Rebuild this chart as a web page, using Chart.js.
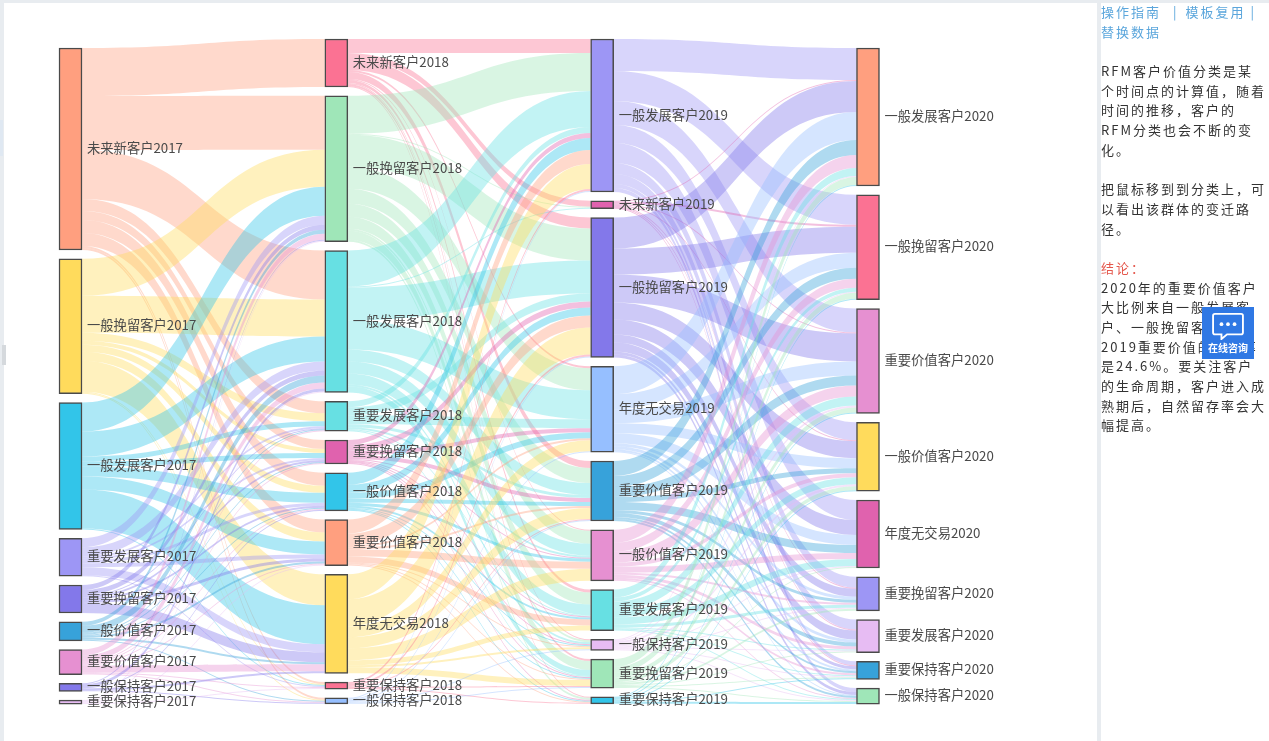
<!DOCTYPE html>
<html>
<head>
<meta charset="utf-8">
<title>RFM</title>
<script src="https://cdn.jsdelivr.net/npm/chart.js@4"></script>
<style>
    html, body { margin: 0; padding: 0; background: #fff; overflow: hidden; }
    #wrap { position: relative; width: 1269px; height: 741px; overflow: hidden; font-family: "Noto Sans CJK SC", sans-serif; }
    #sankey { position: absolute; left: 0; top: 0; }
    .bar { position: absolute; background: #e8ecf0; }
    #side { position: absolute; left: 1101px; top: 2px; width: 168px; font-size: 13px; line-height: 19.7px; letter-spacing: 2px; color: #333; white-space: nowrap; }
    #side .link { color: #5ba6dc; }
    #side .red { color: #e4574c; }
    #side div { height: 19.7px; }
    #help { position: absolute; left: 1202px; top: 307px; width: 52px; height: 52px; background: #2f78e4; color: #fff; text-align: center; }
    #help svg { display: block; margin: 5px auto 0; }
    #help span { display: block; font-size: 10px; line-height: 12px; font-weight: 700; margin-top: 2px; }
</style>
</head>
<body>
<div id="wrap">
    <canvas id="sankey" width="1095" height="741"></canvas>
    <div class="bar" style="left:0;top:0;width:1269px;height:3px"></div>
    <div class="bar" style="left:0;top:0;width:4px;height:741px"></div>
    <div class="bar" style="left:0;top:120px;width:3px;height:36px;background:#dfe8f2"></div>
    <div class="bar" style="left:1097px;top:0;width:4px;height:741px"></div>
    <div class="bar" style="left:2px;top:345px;width:4px;height:20px;background:#d5d9dd"></div>
    <div id="side">
        <div class="link">操作指南<span style="margin-left:12px">|</span><span style="margin-left:7px">模板复用</span><span style="margin-left:5px">|</span></div>
        <div class="link">替换数据</div>
        <div></div>
        <div>RFM客户价值分类是某</div>
        <div>个时间点的计算值，随着</div>
        <div>时间的推移，客户的</div>
        <div>RFM分类也会不断的变</div>
        <div>化。</div>
        <div></div>
        <div>把鼠标移到到分类上，可</div>
        <div>以看出该群体的变迁路</div>
        <div>径。</div>
        <div></div>
        <div class="red">结论：</div>
        <div>2020年的重要价值客户</div>
        <div>大比例来自一般发展客</div>
        <div>户、一般挽留客户，以</div>
        <div>2019重要价值的留存率</div>
        <div>是24.6%。要关注客户</div>
        <div>的生命周期，客户进入成</div>
        <div>熟期后，自然留存率会大</div>
        <div>幅提高。</div>
    </div>
    <div id="help">
        <svg width="34" height="28" viewBox="0 0 36 30">
            <path d="M4 2h28a2 2 0 0 1 2 2v18a2 2 0 0 1-2 2H17l-6 5v-5H4a2 2 0 0 1-2-2V4a2 2 0 0 1 2-2z" fill="none" stroke="#fff" stroke-width="2"/>
            <circle cx="11" cy="13" r="2" fill="#fff"/><circle cx="18" cy="13" r="2" fill="#fff"/><circle cx="25" cy="13" r="2" fill="#fff"/>
        </svg>
        <span>在线咨询</span>
    </div>
</div>
<script>
// Categories, top to bottom in each year
const nodes2017 = ['未来新客户2017', '一般挽留客户2017', '一般发展客户2017', '重要发展客户2017', '重要挽留客户2017', '一般价值客户2017', '重要价值客户2017', '一般保持客户2017', '重要保持客户2017'];
const nodes2018 = ['未来新客户2018', '一般挽留客户2018', '一般发展客户2018', '重要发展客户2018', '重要挽留客户2018', '一般价值客户2018', '重要价值客户2018', '年度无交易2018', '重要保持客户2018', '一般保持客户2018'];
const nodes2019 = ['一般发展客户2019', '未来新客户2019', '一般挽留客户2019', '年度无交易2019', '重要价值客户2019', '一般价值客户2019', '重要发展客户2019', '一般保持客户2019', '重要挽留客户2019', '重要保持客户2019'];
const nodes2020 = ['一般发展客户2020', '一般挽留客户2020', '重要价值客户2020', '一般价值客户2020', '年度无交易2020', '重要挽留客户2020', '重要发展客户2020', '重要保持客户2020', '一般保持客户2020'];

// Flow values: one row per source, one column per target
const flows2017 = [
    [48, 54, 49, 12, 9, 13, 13, 0, 2, 2],
    [0, 37, 37, 8, 4, 7, 9, 31, 1, 1],
    [0, 29, 25, 5, 5, 10, 13, 39, 1, 0],
    [0, 9, 9, 2, 2, 3, 4, 8, 1, 0],
    [0, 5, 5, 1, 2, 2, 3, 10, 0, 0],
    [0, 4, 7, 1, 1, 1, 2, 2, 0, 1],
    [0, 6, 6, 1, 1, 1, 1, 7, 1, 1],
    [0, 1, 3, 0, 0, 1, 0, 2, 0, 1],
    [0, 1, 1, 0, 0, 0, 1, 0, 1, 0]
];
const flows2018 = [
    [14, 6, 11, 2, 7, 1, 3, 1, 2, 1],
    [38, 1, 32, 22, 15, 13, 12, 2, 9, 2],
    [36, 1, 33, 29, 12, 12, 11, 2, 6, 0],
    [6, 0, 8, 9, 3, 2, 1, 0, 1, 0],
    [5, 0, 6, 4, 4, 1, 1, 1, 1, 1],
    [12, 0, 8, 6, 4, 3, 2, 1, 1, 1],
    [14, 0, 12, 2, 2, 7, 6, 1, 1, 1],
    [25, 0, 27, 11, 11, 12, 5, 2, 6, 0],
    [2, 0, 2, 0, 1, 0, 0, 0, 1, 1],
    [1, 0, 1, 1, 1, 0, 0, 1, 1, 0]
];
const flows2019 = [
    [32, 30, 24, 18, 20, 11, 10, 4, 4],
    [1, 2, 1, 1, 0, 1, 1, 1, 0],
    [31, 26, 28, 17, 15, 8, 9, 3, 3],
    [28, 15, 14, 10, 10, 3, 3, 2, 1],
    [15, 11, 10, 5, 8, 3, 4, 2, 2],
    [13, 9, 11, 4, 6, 2, 3, 2, 1],
    [8, 4, 9, 7, 7, 3, 1, 1, 1],
    [1, 1, 2, 2, 1, 1, 1, 1, 1],
    [8, 6, 5, 4, 1, 2, 1, 1, 1],
    [1, 1, 1, 1, 0, 0, 0, 1, 2]
];

const colors2017 = ['#FF9F7F', '#FFDB5C', '#32C5E9', '#9D96F5', '#8378EA', '#37A2DA', '#E690D1', '#8378EA', '#E7BCF3'];
const colors2018 = ['#FB7293', '#9FE6B8', '#67E0E3', '#67E0E3', '#E062AE', '#32C5E9', '#FF9F7F', '#FFDB5C', '#FB7293', '#96BFFF'];
const colors2019 = ['#9D96F5', '#E062AE', '#8378EA', '#96BFFF', '#37A2DA', '#E690D1', '#67E0E3', '#E7BCF3', '#9FE6B8', '#32C5E9'];
const colors2020 = ['#FF9F7F', '#FB7293', '#E690D1', '#FFDB5C', '#E062AE', '#9D96F5', '#E7BCF3', '#37A2DA', '#9FE6B8'];

const columnNames = [nodes2017, nodes2018, nodes2019, nodes2020];
const columnColors = [colors2017, colors2018, colors2019, colors2020];
const columnFlows = [flows2017, flows2018, flows2019];

// Layout on the y axis
const columnTops = [48, 39, 39, 48];
const nodeGap = 8.76;
const nodeWidth = 23;

function sumRow(row) {
    return row.reduce((a, b) => a + b, 0);
}

function sumCol(rows, c) {
    return rows.reduce((a, row) => a + row[c], 0);
}

// Stack each column's nodes from the flow totals
let nodes = [];
columnNames.forEach((names, col) => {
    let y = columnTops[col];
    names.forEach((name, i) => {
        let out = col < 3 ? sumRow(columnFlows[col][i]) : 0;
        let inn = col > 0 ? sumCol(columnFlows[col - 1], i) : 0;
        let size = Math.max(out, inn);
        nodes.push({ name: name, col: col, i: i, top: y, bottom: y + size, color: columnColors[col][i] });
        y += size + nodeGap;
    });
});

function findNode(col, i) {
    return nodes.find(n => n.col === col && n.i === i);
}

// One ribbon per non-zero flow, stacked in order at both ends
let links = [];
columnFlows.forEach((rows, col) => {
    let targetUsed = rows[0].map(() => 0);
    rows.forEach((row, r) => {
        let source = findNode(col, r);
        let used = 0;
        row.forEach((value, c) => {
            if (value > 0) {
                let target = findNode(col + 1, c);
                links.push({ col: col, color: source.color, value: value, y0: source.top + used, y1: target.top + targetUsed[c] });
            }
            used += value;
            targetUsed[c] += value;
        });
    });
});

// Draw the ribbons under the bars, the labels over them
const ribbonPlugin = {
    id: 'ribbons',
    beforeDatasetsDraw(chart) {
        const ctx = chart.ctx;
        const xs = chart.scales.x;
        const ys = chart.scales.y;
        ctx.save();
        links.forEach(l => {
            let x0 = xs.getPixelForValue(l.col) + nodeWidth / 2;
            let x1 = xs.getPixelForValue(l.col + 1) - nodeWidth / 2;
            let mid = (x0 + x1) / 2;
            let a0 = ys.getPixelForValue(l.y0);
            let b0 = ys.getPixelForValue(l.y0 + l.value);
            let a1 = ys.getPixelForValue(l.y1);
            let b1 = ys.getPixelForValue(l.y1 + l.value);
            ctx.globalAlpha = 0.4;
            ctx.fillStyle = l.color;
            ctx.beginPath();
            ctx.moveTo(x0, a0);
            ctx.bezierCurveTo(mid, a0, mid, a1, x1, a1);
            ctx.lineTo(x1, b1);
            ctx.bezierCurveTo(mid, b1, mid, b0, x0, b0);
            ctx.closePath();
            ctx.fill();
        });
        ctx.restore();
    },
    afterDatasetsDraw(chart) {
        const ctx = chart.ctx;
        const xs = chart.scales.x;
        const ys = chart.scales.y;
        ctx.save();
        ctx.font = '13.3px "Noto Sans CJK SC", sans-serif';
        ctx.fillStyle = '#4a4a4a';
        ctx.textBaseline = 'middle';
        nodes.forEach(n => {
            ctx.fillText(n.name, xs.getPixelForValue(n.col) + nodeWidth / 2 + 5, ys.getPixelForValue((n.top + n.bottom) / 2) - 1);
        });
        ctx.restore();
    }
};

new Chart(document.getElementById('sankey').getContext('2d'), {
    type: 'bar',
    data: {
        datasets: [{
            data: nodes.map(n => ({ x: n.col, y: [n.top, n.bottom] })),
            backgroundColor: nodes.map(n => n.color),
            borderColor: '#4a4a4a',
            borderWidth: 1.5,
            borderSkipped: false,
            barThickness: nodeWidth
        }]
    },
    options: {
        responsive: false,
        animation: false,
        layout: { padding: 0 },
        plugins: { legend: { display: false }, tooltip: { enabled: false } },
        scales: {
            x: { type: 'linear', display: false, offset: false, min: -0.2652, max: 3.854 },
            y: { display: false, reverse: true, min: 0, max: 741 }
        }
    },
    plugins: [ribbonPlugin]
});
</script>
</body>
</html>
